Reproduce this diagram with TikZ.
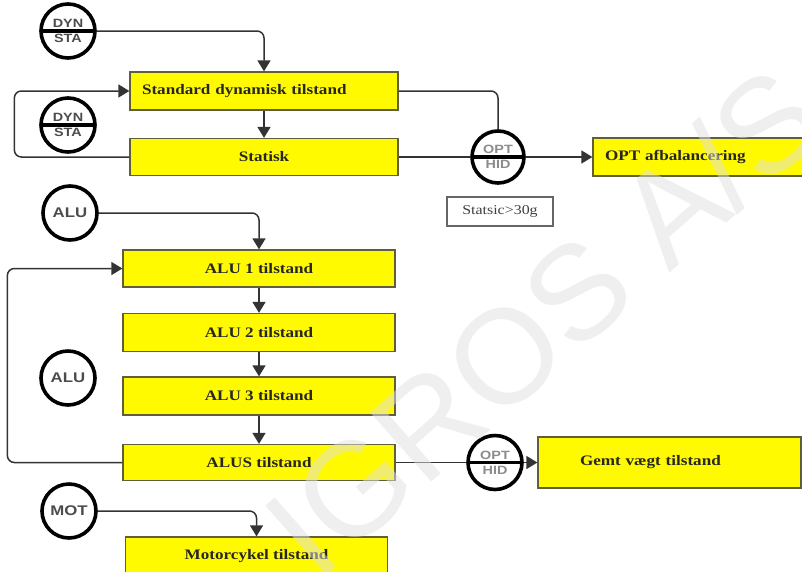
\documentclass[tikz,border=0pt]{standalone}
\usepackage{fontspec}
\setmainfont{Liberation Serif}[FakeStretch=1.18]
\newfontfamily\circfont{Liberation Sans}[FakeStretch=1.2]
\newfontfamily\markfont{Liberation Sans}
\usetikzlibrary{arrows.meta,shapes.multipart}
\definecolor{boxfill}{RGB}{255,250,0}
\definecolor{boxedge}{RGB}{95,95,60}
\begin{document}
\begin{tikzpicture}[x=1pt,y=-1pt,
  box/.style={draw=boxedge, fill=boxfill, line width=1.3pt, inner sep=0pt,
    font=\bfseries\fontsize{14.5}{16}\selectfont, text=black!85},
  sel/.style={circle split, draw=black, line width=3.6pt, fill=white,
    minimum size=54pt, inner sep=1.5pt,
    font=\circfont\bfseries\fontsize{12}{12}\selectfont, text=black!70},
  sig/.style={circle, draw=black, line width=3.6pt, fill=white,
    minimum size=54pt, inner sep=0pt,
    font=\circfont\bfseries\fontsize{14}{14}\selectfont, text=black!70},
  wire/.style={draw=black!80, line width=1.5pt, rounded corners=7pt},
  tip/.style={-{Triangle[length=11pt,width=13pt]}},
]
\path[use as bounding box, fill=white] (0,0) rectangle (802,571);

% dynamic / static group
\node[box, minimum width=268pt, minimum height=38pt, text width=244pt, align=left] (std) at (264,91) {Standard dynamisk tilstand};
\node[box, minimum width=268pt, minimum height=37pt] (stat) at (264,157) {Statisk};
\node[box, minimum width=226pt, minimum height=38pt, text width=202pt, align=left] (optb) at (706,157) {OPT afbalancering};
\node[draw=black!60, line width=1.8pt, minimum width=106pt, minimum height=29pt, inner sep=0pt,
  font=\fontsize{13.5}{14}\selectfont, text=black!75] (cond) at (500,211.5) {Statsic>30g};

\node[sel] (ds1) at (68,31) {DYN\nodepart{lower}STA};
\node[sel] (ds2) at (68,125) {DYN\nodepart{lower}STA};
\node[sel, minimum size=52pt, text=black!45] (oh1) at (498,157) {OPT\nodepart{lower}HID};

% aluminium group
\node[box, minimum width=272pt, minimum height=37pt] (alu1) at (259,268.5) {ALU 1 tilstand};
\node[box, minimum width=272pt, minimum height=38pt] (alu2) at (259,332.5) {ALU 2 tilstand};
\node[box, minimum width=272pt, minimum height=38pt] (alu3) at (259,396) {ALU 3 tilstand};
\node[box, minimum width=272pt, minimum height=36pt] (alus) at (259,462.5) {ALUS tilstand};
\node[box, minimum width=263pt, minimum height=51pt, text width=179pt, align=left] (gemt) at (669.5,462.5) {Gemt vægt tilstand};

\node[sig] (alua) at (70,213) {ALU};
\node[sig] (alub) at (68,378) {ALU};
\node[sel, text=black!45] (oh2) at (495,462.5) {OPT\nodepart{lower}HID};

% motorcycle
\node[box, minimum width=262pt, minimum height=38pt] (motb) at (256.5,556) {Motorcykel tilstand};
\node[sig] (motc) at (69,511) {MOT};

% connectors
\draw[wire,tip] (ds1.east) -| (std.north);
\draw[wire,tip] (std.south) -- (stat.north);
\draw[wire,tip] (stat.west) -- ++(-115,0) |- (std.west);
\draw[wire] (std.east) -| (oh1.north);
\draw[wire] (stat.east) -- (oh1.west);
\draw[wire,tip] (oh1.east) -- (optb.west);

\draw[wire,tip] (alua.east) -| (alu1.north);
\draw[wire,tip] (alu1.south) -- (alu2.north);
\draw[wire,tip] (alu2.south) -- (alu3.north);
\draw[wire,tip] (alu3.south) -- (alus.north);
\draw[wire,tip] (alus.west) -- ++(-115,0) |- (alu1.west);
\draw[wire] (alus.east) -- (oh2.west);
\draw[wire,tip] (oh2.east) -- (gemt.west);

\draw[wire,tip] (motc.east) -| (motb.north);

% watermark
\node[font=\markfont\fontsize{134}{134}\selectfont, text=gray!24, opacity=0.5,
  rotate=41.4, inner sep=0pt] (wm) at (543,321) {IGROS A/S};
\end{tikzpicture}
\end{document}
